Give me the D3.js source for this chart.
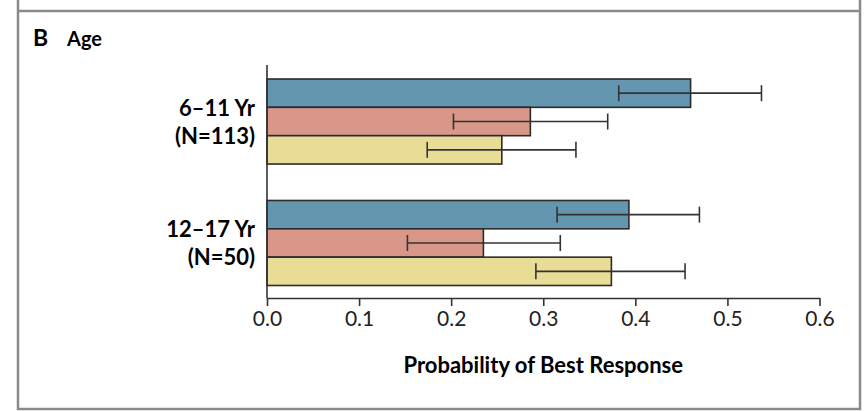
<!DOCTYPE html>
<html>
<head>
<meta charset="utf-8">
<script src="https://cdn.jsdelivr.net/npm/d3@7/dist/d3.min.js"></script>
<style>
  body { margin: 0; background: #fff; }
  svg { display: block; font-family: Lato, "Open Sans", sans-serif; }
</style>
</head>
<body>
<svg id="chart" width="864" height="411"></svg>
<script>
// age groups, two lines of label each
const groups = ['6–11 Yr', '12–17 Yr']
const groupCounts = ['(N=113)', '(N=50)']
const series = ['s1', 's2', 's3']
const seriesColors = ['#6496b0', '#d9978a', '#e8dc96']

// probability of best response per group, in series order
const probValues = [
    [0.460, 0.286, 0.255],
    [0.393, 0.235, 0.374]
]
const lowerCI = [
    [0.382, 0.2025, 0.174],
    [0.315, 0.1525, 0.292]
]
const upperCI = [
    [0.537, 0.370, 0.3355],
    [0.4696, 0.3185, 0.454]
]
const xTicks = [0, 0.1, 0.2, 0.3, 0.4, 0.5, 0.6]

const svg = d3.select('#chart')

// panel frame
svg.append('path')
    .attr('d', 'M 18 0 L 18 409 L 860 409 L 860 0')
    .attr('fill', 'none')
    .attr('stroke', '#8a8a8a')
    .attr('stroke-width', 2.5)
svg.append('line')
    .attr('x1', 18).attr('x2', 860).attr('y1', 11).attr('y2', 11)
    .attr('stroke', '#8a8a8a').attr('stroke-width', 2.5)

svg.append('text').attr('x', 33).attr('y', 46)
    .style('font-size', '23px').style('font-weight', 'bold').text('B')
svg.append('text').attr('x', 67).attr('y', 46)
    .style('font-size', '20px').style('font-weight', 'bold').text('Age')

const x = d3.scaleLinear().domain([0, 0.6]).range([267, 819.5])

const y0 = d3.scaleBand().domain(groups).range([79, 285.5]).paddingInner(0.3)
const y1 = d3.scaleBand().domain(series).range([0, y0.bandwidth()])

const g = svg.selectAll('g.group')
    .data(groups)
    .enter().append('g')
    .attr('class', 'group')
    .attr('transform', d => `translate(0,${y0(d)})`)

g.selectAll('rect')
    .data((d, i) => series.map((s, j) => ({ s, j, v: probValues[i][j] })))
    .enter().append('rect')
    .attr('x', x(0))
    .attr('y', d => y1(d.s))
    .attr('width', d => x(d.v) - x(0))
    .attr('height', y1.bandwidth())
    .attr('fill', d => seriesColors[d.j])
    .attr('stroke', '#2b2b2b')
    .attr('stroke-width', 1.6)

const err = g.selectAll('g.err')
    .data((d, i) => series.map((s, j) => ({ s, lo: lowerCI[i][j], hi: upperCI[i][j] })))
    .enter().append('g')
    .attr('class', 'err')
    .attr('transform', d => `translate(0,${y1(d.s) + y1.bandwidth() / 2})`)
    .attr('stroke', '#333')
    .attr('stroke-width', 1.6)

err.append('line').attr('x1', d => x(d.lo)).attr('x2', d => x(d.hi))
err.append('line').attr('x1', d => x(d.lo)).attr('x2', d => x(d.lo)).attr('y1', -8).attr('y2', 8)
err.append('line').attr('x1', d => x(d.hi)).attr('x2', d => x(d.hi)).attr('y1', -8).attr('y2', 8)

// category labels
g.append('text')
    .attr('x', 255).attr('y', y0.bandwidth() / 2 - 6)
    .attr('text-anchor', 'end')
    .style('font-size', '22px').style('font-weight', 'bold')
    .text(d => d)
g.append('text')
    .attr('x', 255).attr('y', y0.bandwidth() / 2 + 22)
    .attr('text-anchor', 'end')
    .style('font-size', '22px').style('font-weight', 'bold')
    .text((d, i) => groupCounts[i])

// vertical axis line
svg.append('line')
    .attr('x1', x(0)).attr('x2', x(0)).attr('y1', 65).attr('y2', 298)
    .attr('stroke', '#333').attr('stroke-width', 1.6)

const xAxis = svg.append('g')
    .attr('transform', 'translate(0,298)')
    .call(d3.axisBottom(x).tickValues(xTicks).tickFormat(d3.format('.1f')).tickSize(8).tickSizeOuter(0))
xAxis.select('.domain').attr('stroke', '#333').attr('stroke-width', 1.6)
xAxis.selectAll('.tick line').attr('stroke', '#333').attr('stroke-width', 1.6)
xAxis.selectAll('.tick text')
    .attr('y', 13)
    .style('font-size', '21px').style('font-family', 'Lato, sans-serif').attr('fill', '#222')

svg.append('text')
    .attr('x', x(0.3)).attr('y', 373)
    .attr('text-anchor', 'middle')
    .style('font-size', '22px').style('font-weight', 'bold')
    .text('Probability of Best Response')
</script>
</body>
</html>
